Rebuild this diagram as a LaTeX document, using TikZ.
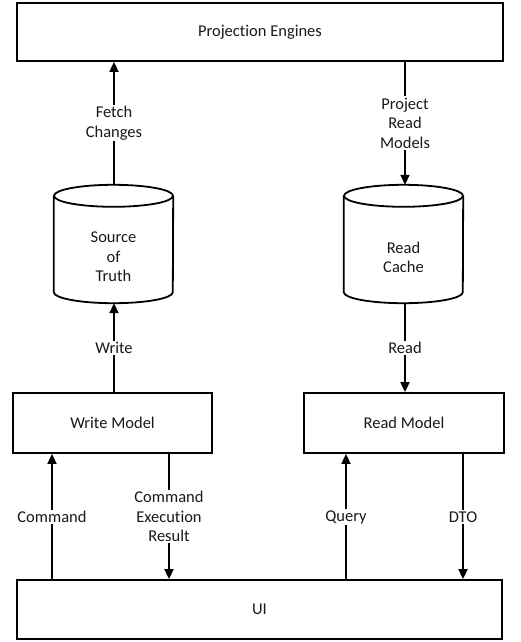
\documentclass[tikz,border=0pt]{standalone}
\usepackage{fontspec}
\setmainfont[Ligatures=NoCommon]{Carlito}
\usetikzlibrary{arrows.meta}
\begin{document}
\begin{tikzpicture}[x=1pt,y=-1pt,
  every node/.style={font=\fontsize{16.5}{19.5}\selectfont, text=black!90},
  box/.style={draw, line width=1.8pt, rectangle, inner sep=0pt},
  conn/.style={line width=1.8pt, -{Triangle[length=10pt,width=9pt]}},
  lbl/.style={fill=white, inner sep=1.5pt, align=center},
  cyl/.style={draw, line width=1.8pt}]
\useasboundingbox (0,0) rectangle (521,642);
% boxes
\node[box, minimum width=486pt, minimum height=58pt] (pe) at (260,32) {Projection Engines};
\node[box, minimum width=199pt, minimum height=60pt] (wm) at (112.5,423) {Write Model};
\node[box, minimum width=200pt, minimum height=60pt] (rm) at (404,423) {Read Model};
\node[box, minimum width=485pt, minimum height=59pt] (ui) at (259.5,609.5) {UI};
% cylinders
\node[minimum width=119pt, minimum height=118pt, inner sep=0pt] (sot) at (113.5,244) {};
\node[minimum width=119pt, minimum height=118pt, inner sep=0pt] (rc) at (403.5,244) {};
\foreach \c in {sot,rc}{
  \draw[cyl, fill=white] ([yshift=-11pt]\c.north west) -- ([yshift=11pt]\c.south west)
     arc[start angle=180, end angle=360, x radius=59.5pt, y radius=11pt]
     -- ([yshift=-11pt]\c.north east);
  \draw[cyl] ([yshift=-11pt]\c.north) ellipse[x radius=59.5pt, y radius=11pt];
}
\node[align=center] at (113.5,257) {Source\\of\\Truth};
\node[align=center] at (403.5,257.5) {Read\\Cache};
% connectors
\draw[conn] (sot.north -| 114,0) -- (pe.south -| 114,0);
\draw[conn] (pe.south -| 405,0) -- (rc.north -| 405,0);
\draw[conn] (wm.north -| 114,0) -- (sot.south -| 114,0);
\draw[conn] (rc.south -| 405,0) -- (rm.north -| 405,0);
\draw[conn] (ui.north -| 52,0) -- (wm.south -| 52,0);
\draw[conn] (wm.south -| 169,0) -- (ui.north -| 169,0);
\draw[conn] (ui.north -| 346,0) -- (rm.south -| 346,0);
\draw[conn] (rm.south -| 463,0) -- (ui.north -| 463,0);
% labels
\node[lbl] (l1) at (114,123) {Fetch\\Changes};
\node[lbl] (l2) at (405,123) {Project\\Read\\Models};
\node[lbl] (l3) at (114,348) {Write};
\node[lbl] (l4) at (405,348) {Read};
\node[lbl] (l5) at (52,517) {Command};
\node[lbl] (l6) at (169,516.5) {Command\\Execution\\Result};
\node[lbl] (l7) at (346,517) {Query};
\node[lbl] (l8) at (463,517) {DTO};
\end{tikzpicture}
\end{document}
